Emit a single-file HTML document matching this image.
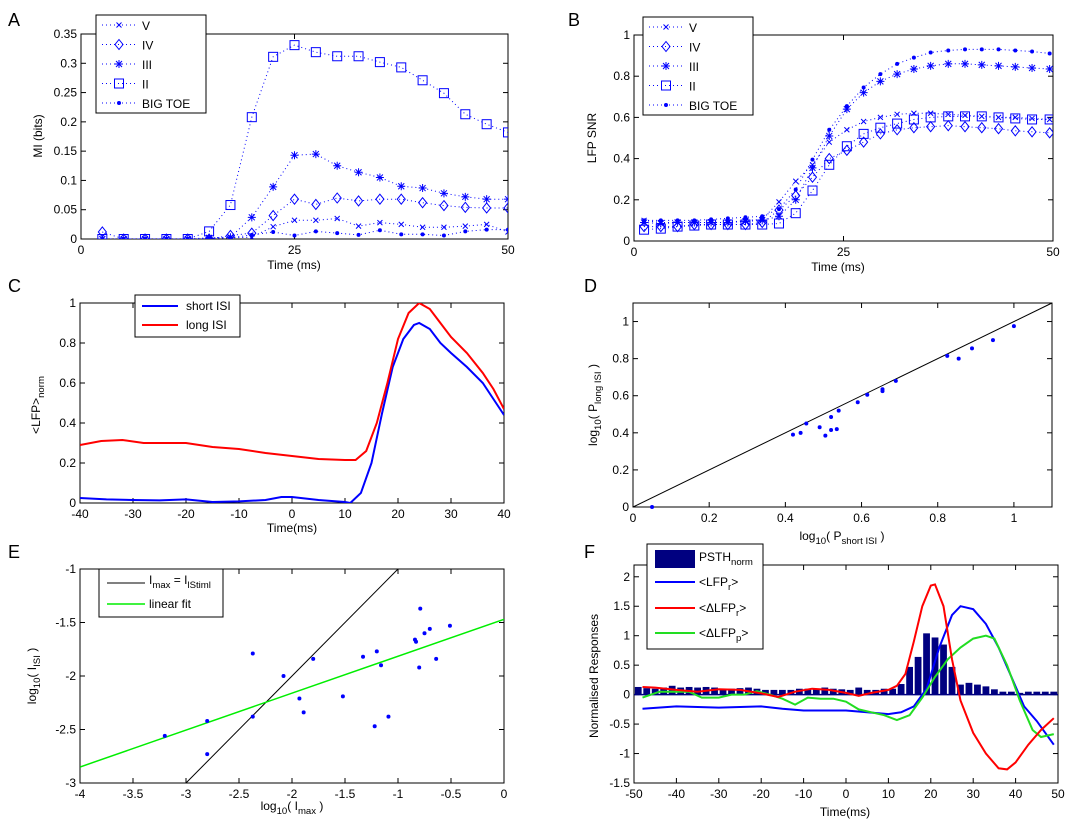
<!DOCTYPE html>
<html><head><meta charset="utf-8"><style>
html,body{margin:0;padding:0;background:#fff;}
svg{display:block;font-family:"Liberation Sans",Arial,sans-serif;}
</style></head><body>
<svg id="chart" width="1080" height="830" viewBox="0 0 1080 830" xmlns="http://www.w3.org/2000/svg"></svg>
<script>
// ---- Panel A data (MI bits) ----
const xA = [2.5,5,7.5,10,12.5,15,17.5,20,22.5,25,27.5,30,32.5,35,37.5,40,42.5,45,47.5,50];
const aV = [0,0,0,0,0,0,0.002,0.003,0.021,0.032,0.032,0.035,0.022,0.028,0.025,0.02,0.02,0.022,0.025,0.012];
const aIV = [0.012,0,0,0,0,0,0.006,0.01,0.04,0.068,0.059,0.07,0.065,0.068,0.068,0.062,0.057,0.054,0.053,0.053];
const aIII = [0,0,0,0,0,0.002,0.003,0.037,0.089,0.143,0.145,0.125,0.114,0.105,0.09,0.087,0.078,0.072,0.068,0.068];
const aII = [0,0,0,0,0,0.013,0.058,0.208,0.311,0.331,0.319,0.312,0.312,0.302,0.293,0.271,0.249,0.213,0.196,0.182];
const aTOE = [0,0,0,0,0,0.001,0.002,0.007,0.012,0.006,0.013,0.01,0.007,0.015,0.008,0.008,0.006,0.013,0.016,0.016];
const aYTicks = [0,0.05,0.1,0.15,0.2,0.25,0.3,0.35];
const aYLabels = ["0","0.05","0.1","0.15","0.2","0.25","0.3","0.35"];
const aXTicks = [0,25,50];
// ---- Panel B data (LFP SNR) ----
const xB = [1.2,3.2,5.2,7.2,9.2,11.2,13.3,15.3,17.3,19.3,21.3,23.3,25.4,27.4,29.4,31.4,33.4,35.4,37.5,39.5,41.5,43.5,45.5,47.5,49.6];
const bV = [0.1,0.09,0.09,0.09,0.09,0.09,0.1,0.105,0.19,0.29,0.37,0.48,0.54,0.58,0.6,0.615,0.62,0.62,0.615,0.61,0.605,0.6,0.6,0.595,0.59];
const bIV = [0.07,0.07,0.07,0.08,0.08,0.08,0.08,0.09,0.15,0.22,0.31,0.4,0.44,0.48,0.52,0.54,0.55,0.555,0.56,0.555,0.55,0.545,0.535,0.53,0.525];
const bIII = [0.09,0.085,0.09,0.09,0.09,0.09,0.095,0.1,0.12,0.2,0.355,0.51,0.64,0.72,0.775,0.81,0.835,0.85,0.86,0.86,0.855,0.85,0.845,0.84,0.835];
const bII = [0.055,0.06,0.07,0.075,0.08,0.08,0.08,0.08,0.085,0.135,0.245,0.37,0.46,0.52,0.55,0.57,0.59,0.6,0.605,0.605,0.605,0.6,0.595,0.59,0.59];
const bTOE = [0.1,0.1,0.1,0.1,0.105,0.11,0.115,0.12,0.155,0.25,0.395,0.54,0.655,0.745,0.81,0.86,0.89,0.915,0.925,0.93,0.93,0.93,0.925,0.92,0.91];
const bYTicks = [0,0.2,0.4,0.6,0.8,1];
const bYLabels = ["0","0.2","0.4","0.6","0.8","1"];
// ---- Panel C data ----
const xCshort = [-40,-35,-30,-25,-20,-15,-10,-5,-2,0,5,10,11,13,15,17,19,21,23,24,26,28,30,33,36,38,40];
const cShort = [0.025,0.018,0.015,0.013,0.018,0.005,0.008,0.015,0.03,0.03,0.015,0.005,0.0,0.05,0.2,0.45,0.68,0.82,0.89,0.9,0.87,0.8,0.75,0.68,0.6,0.52,0.44];
const xClong = [-40,-36,-32,-28,-20,-15,-10,-5,0,5,10,12,14,16,18,20,22,24,26,28,30,33,36,38,40];
const cLong = [0.29,0.31,0.315,0.3,0.3,0.28,0.27,0.25,0.235,0.22,0.215,0.215,0.26,0.4,0.6,0.82,0.95,1.0,0.97,0.9,0.83,0.75,0.65,0.57,0.47];
const cXTicks = [-40,-30,-20,-10,0,10,20,30,40];
const cYTicks = [0,0.2,0.4,0.6,0.8,1];
// ---- Panel D data ----
const dX = [0.05,0.42,0.44,0.455,0.49,0.505,0.52,0.52,0.535,0.54,0.59,0.615,0.655,0.655,0.69,0.825,0.855,0.89,0.945,1.0];
const dY = [0,0.39,0.4,0.45,0.43,0.385,0.485,0.415,0.42,0.52,0.565,0.605,0.635,0.625,0.68,0.815,0.8,0.855,0.9,0.975];
const dTicks = [0,0.2,0.4,0.6,0.8,1];
// ---- Panel E data ----
const eX = [-3.2,-2.8,-2.8,-2.37,-2.37,-2.08,-1.93,-1.89,-1.8,-1.52,-1.33,-1.22,-1.2,-1.16,-1.09,-0.84,-0.83,-0.8,-0.79,-0.75,-0.7,-0.64,-0.51];
const eY = [-2.56,-2.42,-2.73,-1.79,-2.38,-2.0,-2.21,-2.34,-1.84,-2.19,-1.82,-2.47,-1.77,-1.9,-2.38,-1.66,-1.68,-1.92,-1.37,-1.6,-1.56,-1.84,-1.53];
const eFitX = [-4,0];
const eFitY = [-2.85,-1.47];
const eIdX = [-3,-1];
const eXTicks = [-4,-3.5,-3,-2.5,-2,-1.5,-1,-0.5,0];
const eYTicks = [-3,-2.5,-2,-1.5,-1];
// ---- Panel F data ----
const fBarX = [-49,-47,-45,-43,-41,-39,-37,-35,-33,-31,-29,-27,-25,-23,-21,-19,-17,-15,-13,-11,-9,-7,-5,-3,-1,1,3,5,7,9,11,13,15,17,19,21,23,25,27,29,31,33,35,37,39,41,43,45,47,49];
const fBarY = [0.13,0.11,0.1,0.12,0.15,0.12,0.13,0.12,0.13,0.12,0.1,0.1,0.11,0.12,0.1,0.08,0.08,0.08,0.08,0.1,0.1,0.1,0.12,0.1,0.09,0.08,0.12,0.08,0.08,0.1,0.1,0.18,0.47,0.64,1.04,0.97,0.85,0.47,0.17,0.2,0.17,0.14,0.09,0.05,0.05,0.03,0.05,0.05,0.05,0.05];
const fBlueX = [-48,-40,-30,-20,-15,-10,0,5,10,13,16,19,22,25,27,30,33,36,39,42,45,49];
const fBlueY = [-0.24,-0.2,-0.22,-0.2,-0.24,-0.27,-0.27,-0.3,-0.33,-0.3,-0.2,0.1,0.8,1.35,1.5,1.45,1.2,0.8,0.3,-0.2,-0.45,-0.85];
const fRedX = [-48,-45,-40,-35,-30,-25,-20,-16,-12,-8,-4,0,3,6,10,12,14,16,18,20,21,23,25,27,30,33,36,38,40,43,46,49];
const fRedY = [0.13,0.12,0.08,0.05,0.09,0.08,0.02,-0.04,0.05,0.1,0.08,0.03,-0.02,0.03,0.08,0.15,0.35,0.9,1.5,1.85,1.87,1.5,0.6,-0.1,-0.65,-1.0,-1.25,-1.27,-1.15,-0.85,-0.6,-0.4];
const fGreenX = [-48,-44,-40,-37,-34,-30,-27,-24,-21,-18,-15,-12,-9,-6,-3,0,3,6,9,12,15,18,21,24,27,30,33,35,38,41,44,46,49];
const fGreenY = [-0.05,0.05,0.05,0.05,-0.05,-0.05,0,0,0.06,0,-0.07,-0.17,-0.05,-0.07,-0.07,-0.12,-0.25,-0.3,-0.35,-0.43,-0.35,-0.05,0.3,0.6,0.8,0.95,1.0,0.95,0.5,-0.1,-0.6,-0.72,-0.67];
const fXTicks = [-50,-40,-30,-20,-10,0,10,20,30,40,50];
const fYTicks = [-1.5,-1,-0.5,0,0.5,1,1.5,2];

const NS = "http://www.w3.org/2000/svg";
const svg = document.getElementById('chart');
function mk(tag, attrs, parent){
  const e = document.createElementNS(NS, tag);
  for (const k in attrs) e.setAttribute(k, attrs[k]);
  (parent || svg).appendChild(e);
  return e;
}
function fmt(v){ return String(Math.round(v*100)/100); }
function axes(name, box, xd, yd, xt, yt, xl, yl){
  const g = mk('g', {});
  
  
  const sx = v => box.l + (v - xd[0]) / (xd[1] - xd[0]) * (box.r - box.l);
  const sy = v => box.b - (v - yd[0]) / (yd[1] - yd[0]) * (box.b - box.t);
  const r = mk('rect', {x:box.l, y:box.t, width:box.r-box.l, height:box.b-box.t, fill:'#fff', stroke:'#000', 'stroke-width':1}, g);
  
  
  xt.forEach((v, i) => {
    const x = sx(v);
    mk('line', {x1:x, y1:box.b, x2:x, y2:box.b-5, stroke:'#000'}, g);
    mk('line', {x1:x, y1:box.t, x2:x, y2:box.t+5, stroke:'#000'}, g);
    const t = mk('text', {x:x, y:box.b+15, 'font-size':12, 'text-anchor':'middle', fill:'#000'}, g);
    t.textContent = xl ? xl[i] : fmt(v);
    
    
  });
  yt.forEach((v, i) => {
    const y = sy(v);
    mk('line', {x1:box.l, y1:y, x2:box.l+5, y2:y, stroke:'#000'}, g);
    mk('line', {x1:box.r, y1:y, x2:box.r-5, y2:y, stroke:'#000'}, g);
    const t = mk('text', {x:box.l-4, y:y+4, 'font-size':12, 'text-anchor':'end', fill:'#000'}, g);
    t.textContent = yl ? yl[i] : fmt(v);
    
    
  });
  return {x:sx, y:sy, g:g, box:box};
}
function clip(name, ax){
  const c = mk('clipPath', {id:'clip-'+name});
  mk('rect', {x:ax.box.l, y:ax.box.t, width:ax.box.r-ax.box.l, height:ax.box.b-ax.box.t}, c);
  return 'url(#clip-'+name+')';
}
function poly(ax, xs, ys, style, parent){
  const pts = xs.map((x, i) => ax.x(x).toFixed(1) + ',' + ax.y(ys[i]).toFixed(1)).join(' ');
  const attrs = Object.assign({points:pts, fill:'none'}, style);
  return mk('polyline', attrs, parent);
}
function marker(type, cx, cy, parent){
  const g = mk('g', {stroke:'#0000ff', fill:'none', 'stroke-width':1}, parent);
  if (type === 'x'){ mk('path', {d:`M${cx-2.5},${cy-2.5}L${cx+2.5},${cy+2.5}M${cx-2.5},${cy+2.5}L${cx+2.5},${cy-2.5}`}, g); }
  else if (type === 'd'){ mk('path', {d:`M${cx},${cy-5}L${cx+4},${cy}L${cx},${cy+5}L${cx-4},${cy}Z`}, g); }
  else if (type === '*'){ mk('path', {d:`M${cx-4},${cy}L${cx+4},${cy}M${cx},${cy-4}L${cx},${cy+4}M${cx-3},${cy-3}L${cx+3},${cy+3}M${cx-3},${cy+3}L${cx+3},${cy-3}`}, g); }
  else if (type === 's'){ mk('rect', {x:cx-4.5, y:cy-4.5, width:9, height:9}, g); }
  else if (type === '.'){ mk('circle', {cx:cx, cy:cy, r:2, fill:'#0000ff', stroke:'none'}, g); }
  return g;
}
function series(ax, xs, ys, type, name, cp){
  const g = mk('g', {'clip-path':cp}, ax.g);
  
  
  poly(ax, xs, ys, {stroke:'#0000ff', 'stroke-width':1, 'stroke-dasharray':'1,3'}, g);
  xs.forEach((x, i) => {
    const m = marker(type, ax.x(x), ax.y(ys[i]), g);
    
    
  });
}
function text(str, x, y, size, name, opts){
  const t = mk('text', Object.assign({x:x, y:y, 'font-size':size, fill:'#000'}, opts || {}));
  t.textContent = str;
  
  
  return t;
}
function rich(parts, x, y, size, name, opts){
  const t = mk('text', Object.assign({x:x, y:y, 'font-size':size, fill:'#000'}, opts || {}));
  parts.forEach(p => {
    const s = mk('tspan', p[1] ? {'font-size':size*0.8, dy: p[1]==='sub'?4:0} : {}, t);
    s.textContent = p[0];
    if (p[1]==='sub') { const back = mk('tspan', {dy:-4, 'font-size':1}, t); back.textContent = '\u200b'; }
  });
  
  
  return t;
}
function legendBox(name, x, y, w, h){
  const g = mk('g', {});
  
  
  mk('rect', {x:x, y:y, width:w, height:h, fill:'#fff', stroke:'#000'}, g);
  return g;
}

// Panel letters
[['A',8,26],['B',568,26],['C',8,292],['D',584,292],['E',8,558],['F',584,558]].forEach(p => {
  text(p[0], p[1], p[2], 18, 'panel-label-' + p[0].toLowerCase());
});

// ===== Panel A =====
const A = axes('panel-a', {l:81,t:34,r:508,b:239}, [0,50], [0,0.35], aXTicks, aYTicks, null, aYLabels);
const cpA = clip('a', A);
series(A, xA, aV, 'x', 'a-series-v', cpA);
series(A, xA, aIV, 'd', 'a-series-iv', cpA);
series(A, xA, aIII, '*', 'a-series-iii', cpA);
series(A, xA, aII, 's', 'a-series-ii', cpA);
series(A, xA, aTOE, '.', 'a-series-big-toe', cpA);
text('Time (ms)', 294, 269, 12, 'a-x-axis-title', {'text-anchor':'middle'});
text('MI (bits)', 0, 0, 12, 'a-y-axis-title', {'text-anchor':'middle', transform:'translate(42,136) rotate(-90)'});
function markerLegend(name, x, y, w, h, labels, types){
  const g = legendBox(name, x, y, w, h);
  labels.forEach((lab, i) => {
    const yy = y + 10 + i*19.5;
    mk('line', {x1:x+6, y1:yy, x2:x+40, y2:yy, stroke:'#0000ff', 'stroke-dasharray':'1,3'}, g);
    marker(types[i], x+23, yy, g);
    const t = mk('text', {x:x+46, y:yy+5, 'font-size':12, fill:'#000'}, g);
    t.textContent = lab;
    
    
  });
}
markerLegend('a-legend', 96, 15, 110, 98, ['V','IV','III','II','BIG TOE'], ['x','d','*','s','.']);

// ===== Panel B =====
const B = axes('panel-b', {l:634,t:35,r:1053,b:241}, [0,50], [0,1], aXTicks, bYTicks, null, bYLabels);
const cpB = clip('b', B);
series(B, xB, bV, 'x', 'b-series-v', cpB);
series(B, xB, bIV, 'd', 'b-series-iv', cpB);
series(B, xB, bIII, '*', 'b-series-iii', cpB);
series(B, xB, bII, 's', 'b-series-ii', cpB);
series(B, xB, bTOE, '.', 'b-series-big-toe', cpB);
text('Time (ms)', 838, 271, 12, 'b-x-axis-title', {'text-anchor':'middle'});
text('LFP SNR', 0, 0, 12, 'b-y-axis-title', {'text-anchor':'middle', transform:'translate(596,138) rotate(-90)'});
markerLegend('b-legend', 643, 17, 110, 98, ['V','IV','III','II','BIG TOE'], ['x','d','*','s','.']);

// ===== Panel C =====
const C = axes('panel-c', {l:80,t:303,r:504,b:503}, [-40,40], [0,1], cXTicks, cYTicks);
const cpC = clip('c', C);
const cs = poly(C, xCshort, cShort, {stroke:'#0000ff', 'stroke-width':2, 'clip-path':cpC}, C.g);


const cl = poly(C, xClong, cLong, {stroke:'#ff0000', 'stroke-width':2, 'clip-path':cpC}, C.g);


text('Time(ms)', 292, 532, 12, 'c-x-axis-title', {'text-anchor':'middle'});
rich([['<LFP>'],['norm','sub']], 0, 0, 12, 'c-y-axis-title', {'text-anchor':'middle', transform:'translate(40,405) rotate(-90)'});
(function(){
  const g = legendBox('c-legend', 135, 295, 105, 42);
  [['short ISI','#0000ff'],['long ISI','#ff0000']].forEach((e, i) => {
    const yy = 306 + i*19;
    mk('line', {x1:142, y1:yy, x2:178, y2:yy, stroke:e[1], 'stroke-width':2}, g);
    const t = mk('text', {x:186, y:yy+4, 'font-size':12}, g);
    t.textContent = e[0];
    
    
  });
})();

// ===== Panel D =====
const D = axes('panel-d', {l:633,t:303,r:1052,b:507}, [0,1.1], [0,1.1], dTicks, dTicks);
const dl = mk('line', {x1:D.x(0), y1:D.y(0), x2:D.x(1.1), y2:D.y(1.1), stroke:'#000', 'stroke-width':1}, D.g);


dX.forEach((x, i) => {
  const m = marker('.', D.x(x), D.y(dY[i]), D.g);
  
  
});
rich([['log'],['10','sub'],['( P'],['short ISI','sub'],[' )']], 842, 540, 12, 'd-x-axis-title', {'text-anchor':'middle'});
rich([['log'],['10','sub'],['( P'],['long ISI','sub'],[' )']], 0, 0, 12, 'd-y-axis-title', {'text-anchor':'middle', transform:'translate(597,405) rotate(-90)'});

// ===== Panel E =====
const E = axes('panel-e', {l:80,t:569,r:504,b:783}, [-4,0], [-3,-1], eXTicks, eYTicks);
const cpE = clip('e', E);
const eid = mk('line', {x1:E.x(eIdX[0]), y1:E.y(eIdX[0]), x2:E.x(eIdX[1]), y2:E.y(eIdX[1]), stroke:'#000', 'clip-path':cpE}, E.g);


const efit = poly(E, eFitX, eFitY, {stroke:'#00ee00', 'stroke-width':1.5, 'clip-path':cpE}, E.g);


eX.forEach((x, i) => {
  const m = marker('.', E.x(x), E.y(eY[i]), E.g);
  
  
});
rich([['log'],['10','sub'],['( I'],['max','sub'],[' )']], 292, 810, 12, 'e-x-axis-title', {'text-anchor':'middle'});
rich([['log'],['10','sub'],['( I'],['ISI','sub'],[' )']], 0, 0, 12, 'e-y-axis-title', {'text-anchor':'middle', transform:'translate(36,676) rotate(-90)'});
(function(){
  const g = legendBox('e-legend', 99, 569, 124, 48);
  mk('line', {x1:107, y1:583, x2:145, y2:583, stroke:'#000'}, g);
  const t1 = rich([['I'],['max','sub'],[' = I'],['lStiml','sub']], 149, 584, 12, 'e-legend-entry-identity');
  g.appendChild(t1);
  mk('line', {x1:107, y1:604, x2:145, y2:604, stroke:'#00ee00', 'stroke-width':1.5}, g);
  const t2 = mk('text', {x:149, y:608, 'font-size':12}, g);
  t2.textContent = 'linear fit';
  
  
})();

// ===== Panel F =====
const F = axes('panel-f', {l:634,t:565,r:1058,b:783}, [-50,50], [-1.5,2.2], fXTicks, fYTicks);
const cpF = clip('f', F);
const fg = mk('g', {'clip-path':cpF}, F.g);
fBarX.forEach((x, i) => {
  const x0 = F.x(x - 0.8), x1 = F.x(x + 0.8), y0 = F.y(0), y1 = F.y(fBarY[i]);
  const b = mk('rect', {x:x0, y:Math.min(y0,y1), width:x1-x0, height:Math.abs(y0-y1), fill:'#000080'}, fg);
  
  
});
const zl = mk('line', {x1:F.x(-50), y1:F.y(0), x2:F.x(50), y2:F.y(0), stroke:'#000080', 'stroke-width':1.5}, fg);


const fb = poly(F, fBlueX, fBlueY, {stroke:'#0000ff', 'stroke-width':2}, fg);


const fgr = poly(F, fGreenX, fGreenY, {stroke:'#22dd22', 'stroke-width':2}, fg);


const fr = poly(F, fRedX, fRedY, {stroke:'#ff0000', 'stroke-width':2}, fg);


text('Time(ms)', 845, 816, 12, 'f-x-axis-title', {'text-anchor':'middle'});
text('Normalised Responses', 0, 0, 12, 'f-y-axis-title', {'text-anchor':'middle', transform:'translate(598,676) rotate(-90)'});
(function(){
  const g = legendBox('f-legend', 647, 544, 116, 105);
  mk('rect', {x:655, y:550, width:40, height:18, fill:'#000080'}, g);
  g.appendChild(rich([['PSTH'],['norm','sub']], 699, 561, 12, 'f-legend-entry-psth'));
  mk('line', {x1:655, y1:582, x2:695, y2:582, stroke:'#0000ff', 'stroke-width':2}, g);
  g.appendChild(rich([['<LFP'],['r','sub'],['>']], 699, 586, 12, 'f-legend-entry-lfp-r'));
  mk('line', {x1:655, y1:608, x2:695, y2:608, stroke:'#ff0000', 'stroke-width':2}, g);
  g.appendChild(rich([['<\u0394LFP'],['r','sub'],['>']], 699, 612, 12, 'f-legend-entry-dlfp-r'));
  mk('line', {x1:655, y1:633, x2:695, y2:633, stroke:'#22dd22', 'stroke-width':2}, g);
  g.appendChild(rich([['<\u0394LFP'],['p','sub'],['>']], 699, 637, 12, 'f-legend-entry-dlfp-p'));
})();
</script>
</body></html>
